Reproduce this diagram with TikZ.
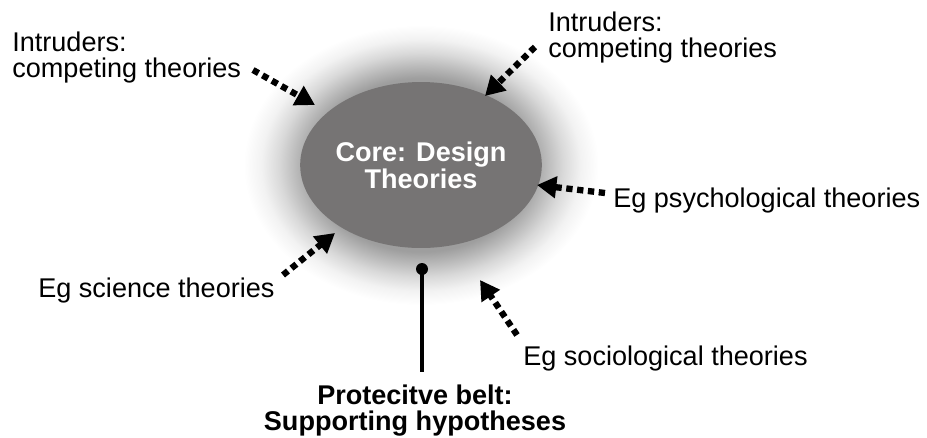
\documentclass[tikz,border=0pt]{standalone}
\usepackage{fontspec}
\setmainfont{Liberation Sans}
\usetikzlibrary{positioning, arrows.meta, shapes.geometric}
\definecolor{corefill}{RGB}{118,116,116}
\pgfdeclareradialshading{halo}{\pgfpoint{0bp}{0bp}}{color(0bp)=(black!38); color(15.5bp)=(black!38); color(17.5bp)=(black!28); color(20bp)=(black!15); color(22.5bp)=(black!5); color(25bp)=(white); color(50bp)=(white)}

\begin{document}
\begin{tikzpicture}[x=0.02cm, y=-0.02cm,
  theory/.style={font=\fontsize{15.4}{14.6}\selectfont, inner sep=0pt, align=left},
  intrude/.style={line width=3.6pt, dash pattern=on 3.6pt off 2.6pt, -{Triangle[length=11pt,width=12pt]}}]
\useasboundingbox (0,0) rectangle (927,437);
\shade[shading=halo] (421,165) ellipse [x radius=3.55cm, y radius=2.8cm];
\node[ellipse, fill=corefill, minimum width=4.44cm, minimum height=3.32cm, inner sep=0pt,
  text=white, align=center, font=\fontsize{15.4}{14.2}\selectfont\bfseries] (core) at (421,165) {Core: Design\\Theories};
% labels round the core
\node[theory, anchor=north west] (intrL) at (12,32) {Intruders:\\competing theories};
\node[theory, anchor=north west] (intrR) at (548,12) {Intruders:\\competing theories};
\node[theory, anchor=base west] (psych) at (613,207) {Eg psychological theories};
\node[theory, anchor=base west] (sci) at (38,297) {Eg science theories};
\node[theory, anchor=base west] (socio) at (523,365) {Eg sociological theories};
\node[theory, anchor=north, align=center, font=\fontsize{15.4}{14.6}\selectfont\bfseries] (belt) at (415,385) {Protecitve belt:\\Supporting hypotheses};
% arrow ends
\coordinate (s1) at (253,70);  \coordinate (e1) at (315,105);
\coordinate (s2) at (535,47);  \coordinate (e2) at (485,96);
\coordinate (s3) at (605,193); \coordinate (e3) at (537,185);
\coordinate (s4) at (283,275); \coordinate (e4) at (335,233);
\coordinate (s5) at (517,335); \coordinate (e5) at (480,280);
\draw[intrude] (s1) -- (e1);
\draw[intrude] (s2) -- (e2);
\draw[intrude] (s3) -- (e3);
\draw[intrude] (s4) -- (e4);
\draw[intrude] (s5) -- (e5);
% belt pin
\coordinate (pin) at (422,269);
\draw[line width=2pt, shorten >=0.26cm] (pin) -- (pin |- belt.north);
\fill (pin) circle (0.12cm);
\end{tikzpicture}
\end{document}
